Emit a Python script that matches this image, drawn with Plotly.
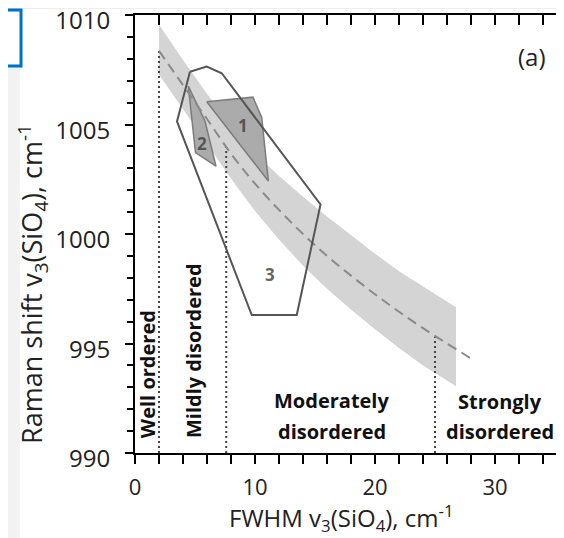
import plotly.graph_objects as go

# ---- data ----
band_x = [2, 4, 6, 8, 10, 12, 14, 16, 18, 20, 22, 24, 26, 26.75]
band_upper = [1009.57, 1007.95, 1006.4, 1004.92, 1003.7, 1002.65, 1001.7, 1000.8,
              999.95, 999.1, 998.3, 997.6, 996.9, 996.65]
band_lower = [1007.27, 1005.7, 1004.13, 1002.52, 1001.05, 999.75, 998.55, 997.5,
              996.55, 995.65, 994.8, 994.0, 993.3, 993.05]

trend_x = [2, 4, 6, 8, 10, 12, 14, 16, 18, 20, 22, 24, 26, 28.2]
trend_y = [1008.37, 1006.8, 1005.25, 1003.67, 1002.3, 1001.1, 1000.0, 999.0,
           998.1, 997.25, 996.45, 995.7, 995.0, 994.25]

boundary_x = [2, 7.6, 25]
boundary_top = [1008.37, 1003.97, 995.3]

poly1_x = [5.98, 9.83, 10.56, 11.11]
poly1_y = [1006.04, 1006.25, 1005.32, 1002.42]
poly2_x = [4.44, 5.83, 6.75, 5.04]
poly2_y = [1006.76, 1005.16, 1003.1, 1003.72]
poly3_x = [4.58, 5.98, 7.23, 15.46, 13.48, 9.73, 3.5]
poly3_y = [1007.41, 1007.65, 1007.34, 1001.35, 996.3, 996.3, 1005.14]

poly_labels = ["1", "2", "3"]
poly_label_x = [8.97, 5.56, 11.25]
poly_label_y = [1004.95, 1004.14, 998.13]

x_ticks = [0, 10, 20, 30]
y_ticks = [990, 995, 1000, 1005, 1010]

FONT = "Open Sans"

fig = go.Figure()

# confidence band
fig.add_trace(go.Scatter(x=band_x + band_x[::-1], y=band_upper + band_lower[::-1],
                         fill="toself", fillcolor="#d4d4d4", line=dict(width=0),
                         mode="lines", hoverinfo="skip", showlegend=False))

# boundaries (dotted verticals)
for bx, by in zip(boundary_x, boundary_top):
    fig.add_trace(go.Scatter(x=[bx, bx], y=[990, by], mode="lines",
                             line=dict(color="#444444", width=2, dash="2px,3px"),
                             showlegend=False, hoverinfo="skip"))

# polygon 1 and 2 (filled)
fig.add_trace(go.Scatter(x=poly1_x + poly1_x[:1], y=poly1_y + poly1_y[:1], fill="toself",
                         fillcolor="#ababab", line=dict(color="#7c7c7c", width=1.5),
                         mode="lines", showlegend=False, hoverinfo="skip"))
fig.add_trace(go.Scatter(x=poly2_x + poly2_x[:1], y=poly2_y + poly2_y[:1], fill="toself",
                         fillcolor="#ababab", line=dict(color="#7c7c7c", width=1.5),
                         mode="lines", showlegend=False, hoverinfo="skip"))

# trend line (dashed)
fig.add_trace(go.Scatter(x=trend_x, y=trend_y, mode="lines", line_shape="spline",
                         line=dict(color="#8a8a8a", width=2, dash="10px,6px"),
                         showlegend=False, hoverinfo="skip"))

# polygon 3 (outline)
fig.add_trace(go.Scatter(x=poly3_x + poly3_x[:1], y=poly3_y + poly3_y[:1],
                         line=dict(color="#555555", width=2),
                         mode="lines", showlegend=False, hoverinfo="skip"))

# invisible trace for top axis
fig.add_trace(go.Scatter(x=[0], y=[990], xaxis="x2", mode="markers",
                         marker=dict(opacity=0), showlegend=False, hoverinfo="skip"))

# polygon number labels
for t, lx, ly, c in zip(poly_labels, poly_label_x, poly_label_y, ["#555555", "#555555", "#666666"]):
    fig.add_annotation(x=lx, y=ly, text=f"<b>{t}</b>", showarrow=False,
                       font=dict(family=FONT, size=17, color=c))

# region labels
lab_font = dict(family=FONT, size=20, color="#111111")
fig.add_annotation(x=1.0, y=993.6, text="<b>Well ordered</b>", textangle=-90,
                   showarrow=False, font=lab_font)
fig.add_annotation(x=4.83, y=994.7, text="<b>Mildly disordered</b>", textangle=-90,
                   showarrow=False, font=lab_font)
fig.add_annotation(x=16.4, y=992.42, text="<b>Moderately</b>", showarrow=False, font=lab_font)
fig.add_annotation(x=16.4, y=991.0, text="<b>disordered</b>", showarrow=False, font=lab_font)
fig.add_annotation(x=30.4, y=992.35, text="<b>Strongly</b>", showarrow=False, font=lab_font)
fig.add_annotation(x=30.4, y=991.0, text="<b>disordered</b>", showarrow=False, font=lab_font)
fig.add_annotation(x=33.1, y=1008.1, text="(a)", showarrow=False,
                   font=dict(family=FONT, size=24, color="#222222"))

# axis titles
fig.add_annotation(xref="paper", yref="paper", x=-0.2378, y=0.386, textangle=-90,
                   xanchor="center", yanchor="middle",
                   text="Raman shift v<sub>3</sub>(SiO<sub>4</sub>), cm<sup>-1</sup>",
                   showarrow=False, font=dict(family=FONT, size=27, color="#222222"))
fig.add_annotation(xref="paper", yref="paper", x=0.4825, y=-0.1484,
                   xanchor="center", yanchor="middle",
                   text="FWHM v<sub>3</sub>(SiO<sub>4</sub>), cm<sup>-1</sup>",
                   showarrow=False, font=dict(family=FONT, size=24, color="#222222"))

# background decorations of the source picture
fig.add_shape(type="rect", xref="paper", yref="paper", x0=-0.33, x1=1.02, y0=1.0137, y1=1.05,
              fillcolor="#eeeeee", line=dict(width=0), layer="below")
fig.add_shape(type="rect", xref="paper", yref="paper", x0=-0.33, x1=-0.268, y0=-0.2, y1=1.0137,
              fillcolor="#f2f2f2", line=dict(width=0), layer="below")
fig.add_shape(type="rect", xref="paper", yref="paper", x0=-0.3217, x1=-0.2657, y0=0.8836, y1=1.0114,
              fillcolor="white", line=dict(color="#0070c0", width=3))

fig.update_layout(
    width=556, height=530,
    margin=dict(l=127, r=0, t=7, b=85),
    paper_bgcolor="white", plot_bgcolor="white",
    showlegend=False,
    xaxis=dict(range=[0, 35.75], tickvals=x_ticks, showgrid=False, zeroline=False,
               showline=True, linecolor="black", linewidth=2, automargin=False,
               ticks="outside", ticklen=9, tickwidth=2, tickcolor="black",
               minor=dict(dtick=2, ticks="outside", ticklen=9, tickwidth=2, tickcolor="black"),
               tickfont=dict(family=FONT, size=22, color="#222222"),
               ticklabelstandoff=5),
    xaxis2=dict(range=[0, 35.75], overlaying="x", side="top", anchor="y",
                showgrid=False, zeroline=False, showticklabels=False, automargin=False,
                showline=True, linecolor="black", linewidth=2,
                tickmode="linear", tick0=0, dtick=2,
                ticks="inside", ticklen=10, tickwidth=2, tickcolor="black"),
    yaxis=dict(range=[990, 1010.001], tickvals=y_ticks, showgrid=False, zeroline=False,
               showline=True, linecolor="black", linewidth=2, automargin=False,
               ticks="outside", ticklen=8, tickwidth=2, tickcolor="black",
               minor=dict(dtick=1, ticks="outside", ticklen=6, tickwidth=2, tickcolor="black"),
               tickfont=dict(family=FONT, size=24, color="#222222"),
               ticklabelstandoff=10, ticklabelshift=6, ticklabeloverflow="allow"),
)

fig.write_html("out.html")
